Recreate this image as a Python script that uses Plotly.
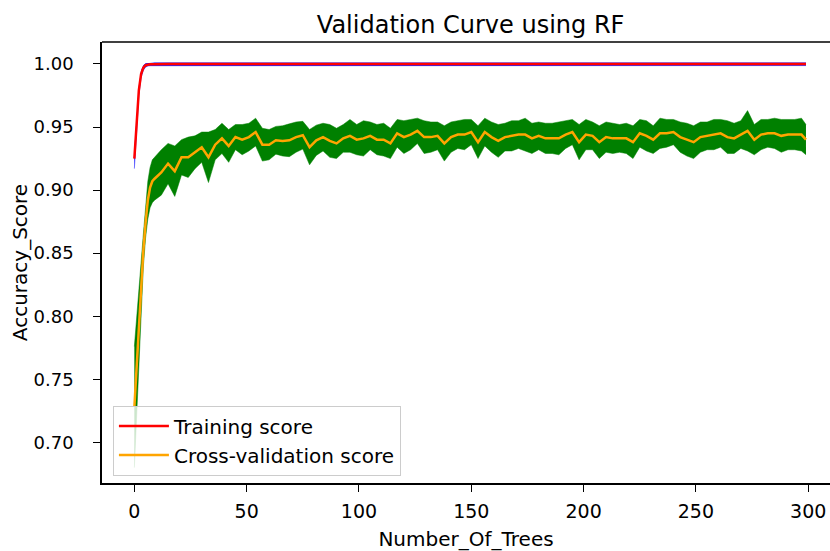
import plotly.graph_objects as go

n_trees = list(range(0, 9)) + list(range(9, 298, 3)) + [299]

train_mean = [
    0.925, 0.956, 0.979, 0.992, 0.997, 0.999, 0.9996, 0.9998, 0.9998,
    0.9999, 0.9999, 0.9999, 0.9999, 0.9999, 0.9999, 0.9999, 0.9999, 0.9999, 0.9999,
    0.9999, 0.9999, 0.9999, 0.9999, 0.9999, 0.9999, 0.9999, 0.9999, 0.9999, 0.9999,
    0.9999, 0.9999, 0.9999, 0.9999, 0.9999, 0.9999, 0.9999, 0.9999, 0.9999, 0.9999,
    0.9999, 0.9999, 0.9999, 0.9999, 0.9999, 0.9999, 0.9999, 0.9999, 0.9999, 0.9999,
    0.9999, 0.9999, 0.9999, 0.9999, 0.9999, 0.9999, 0.9999, 0.9999, 0.9999, 0.9999,
    0.9999, 0.9999, 0.9999, 0.9999, 0.9999, 0.9999, 0.9999, 0.9999, 0.9999, 0.9999,
    0.9999, 0.9999, 0.9999, 0.9999, 0.9999, 0.9999, 0.9999, 0.9999, 0.9999, 0.9999,
    0.9999, 0.9999, 0.9999, 0.9999, 0.9999, 0.9999, 0.9999, 0.9999, 0.9999, 0.9999,
    0.9999, 0.9999, 0.9999, 0.9999, 0.9999, 0.9999, 0.9999, 0.9999, 0.9999, 0.9999,
    0.9999, 0.9999, 0.9999, 0.9999, 0.9999, 0.9999, 0.9999,
    0.9999,
]
train_std = [
    0.008, 0.006, 0.004, 0.003, 0.002, 0.0015, 0.0012, 0.0012, 0.0012,
    0.0012, 0.0012, 0.0012, 0.0012, 0.0012, 0.0012, 0.0012, 0.0012, 0.0012, 0.0012,
    0.0012, 0.0012, 0.0012, 0.0012, 0.0012, 0.0012, 0.0012, 0.0012, 0.0012, 0.0012,
    0.0012, 0.0012, 0.0012, 0.0012, 0.0012, 0.0012, 0.0012, 0.0012, 0.0012, 0.0012,
    0.0012, 0.0012, 0.0012, 0.0012, 0.0012, 0.0012, 0.0012, 0.0012, 0.0012, 0.0012,
    0.0012, 0.0012, 0.0012, 0.0012, 0.0012, 0.0012, 0.0012, 0.0012, 0.0012, 0.0012,
    0.0012, 0.0012, 0.0012, 0.0012, 0.0012, 0.0012, 0.0012, 0.0012, 0.0012, 0.0012,
    0.0012, 0.0012, 0.0012, 0.0012, 0.0012, 0.0012, 0.0012, 0.0012, 0.0012, 0.0012,
    0.0012, 0.0012, 0.0012, 0.0012, 0.0012, 0.0012, 0.0012, 0.0012, 0.0012, 0.0012,
    0.0012, 0.0012, 0.0012, 0.0012, 0.0012, 0.0012, 0.0012, 0.0012, 0.0012, 0.0012,
    0.0012, 0.0012, 0.0012, 0.0012, 0.0012, 0.0012, 0.0012,
    0.0012,
]
cv_mean = [
    0.728, 0.760, 0.792, 0.823, 0.852, 0.874, 0.892, 0.902, 0.907,
    0.909, 0.914, 0.921, 0.915, 0.926, 0.926, 0.930, 0.934, 0.926, 0.936,
    0.941, 0.935, 0.942, 0.940, 0.942, 0.946, 0.936, 0.936, 0.9395, 0.939,
    0.9395, 0.942, 0.9435, 0.934, 0.9395, 0.942, 0.939, 0.937, 0.941, 0.943,
    0.940, 0.941, 0.943, 0.940, 0.940, 0.937, 0.945, 0.942, 0.944, 0.947,
    0.942, 0.942, 0.943, 0.937, 0.942, 0.944, 0.944, 0.946, 0.938, 0.946,
    0.942, 0.939, 0.942, 0.943, 0.944, 0.944, 0.941, 0.943, 0.941, 0.941,
    0.941, 0.944, 0.946, 0.938, 0.944, 0.943, 0.938, 0.942, 0.941, 0.941,
    0.941, 0.938, 0.945, 0.943, 0.940, 0.945, 0.945, 0.946, 0.942, 0.940,
    0.938, 0.942, 0.943, 0.944, 0.945, 0.942, 0.941, 0.944, 0.947, 0.940,
    0.944, 0.945, 0.945, 0.943, 0.944, 0.944, 0.944,
    0.940,
]
cv_std = [
    0.048, 0.040, 0.030, 0.020, 0.013, 0.012, 0.015, 0.016, 0.017,
    0.017, 0.018, 0.016, 0.020, 0.014, 0.016, 0.013, 0.012, 0.020, 0.012,
    0.012, 0.013, 0.010, 0.012, 0.011, 0.011, 0.013, 0.012, 0.011, 0.012,
    0.013, 0.012, 0.011, 0.014, 0.012, 0.011, 0.013, 0.012, 0.011, 0.013,
    0.012, 0.014, 0.011, 0.012, 0.013, 0.012, 0.011, 0.013, 0.012, 0.010,
    0.013, 0.012, 0.011, 0.014, 0.012, 0.011, 0.012, 0.010, 0.013, 0.011,
    0.012, 0.013, 0.011, 0.012, 0.011, 0.013, 0.012, 0.011, 0.012, 0.012,
    0.013, 0.011, 0.010, 0.014, 0.012, 0.011, 0.013, 0.012, 0.012, 0.011,
    0.012, 0.013, 0.011, 0.012, 0.011, 0.012, 0.011, 0.010, 0.012, 0.013,
    0.013, 0.012, 0.011, 0.012, 0.011, 0.013, 0.012, 0.011, 0.016, 0.012,
    0.012, 0.011, 0.012, 0.013, 0.012, 0.012, 0.013,
    0.012,
]

x_ticks = [0, 50, 100, 150, 200, 250, 300]
y_ticks = [0.70, 0.75, 0.80, 0.85, 0.90, 0.95, 1.00]

train_hi = [m + s for m, s in zip(train_mean, train_std)]
train_lo = [m - s for m, s in zip(train_mean, train_std)]
cv_hi = [m + s for m, s in zip(cv_mean, cv_std)]
cv_lo = [m - s for m, s in zip(cv_mean, cv_std)]

FONT = "DejaVu Sans"
fig = go.Figure()

# bands
fig.add_trace(go.Scatter(x=n_trees, y=train_hi, mode="lines", line=dict(width=0, color="blue"),
                         showlegend=False, hoverinfo="skip"))
fig.add_trace(go.Scatter(x=n_trees, y=train_lo, mode="lines", line=dict(width=0.5, color="blue"),
                         fill="tonexty", fillcolor="blue", showlegend=False, hoverinfo="skip"))
fig.add_trace(go.Scatter(x=n_trees, y=cv_hi, mode="lines", line=dict(width=0.5, color="green"),
                         showlegend=False, hoverinfo="skip"))
fig.add_trace(go.Scatter(x=n_trees, y=cv_lo, mode="lines", line=dict(width=0.5, color="green"),
                         fill="tonexty", fillcolor="green", showlegend=False, hoverinfo="skip"))
# lines
fig.add_trace(go.Scatter(x=n_trees, y=train_mean, mode="lines", name="Training score",
                         line=dict(color="red", width=2.5)))
fig.add_trace(go.Scatter(x=n_trees, y=cv_mean, mode="lines", name="Cross-validation score",
                         line=dict(color="orange", width=2.5)))

fig.update_layout(
    width=830, height=551,
    margin=dict(l=102, r=0, t=42, b=551 - 483),
    paper_bgcolor="white", plot_bgcolor="white",
    font=dict(family=FONT, size=18, color="black"),
    title=dict(text="Validation Curve using RF", x=0.567, xanchor="center",
               y=0.955, yanchor="middle", font=dict(size=24, family=FONT, color="black")),
    legend=dict(x=0.015, y=0.017, xanchor="left", yanchor="bottom",
                bgcolor="rgba(255,255,255,0.8)", bordercolor="#cccccc", borderwidth=1,
                font=dict(size=20, family=FONT, color="black"),
                traceorder="normal", tracegroupgap=0, itemwidth=50),
    showlegend=True,
)
fig.update_xaxes(range=[-14.4, 309.7], tickvals=x_ticks, ticktext=[str(v) for v in x_ticks],
                 ticks="outside", ticklen=7, tickwidth=1.3, tickcolor="black",
                 showline=True, linecolor="black", linewidth=1.5, showgrid=False, zeroline=False,
                 ticklabelstandoff=3,
                 title=dict(text="Number_Of_Trees", font=dict(size=20, family=FONT), standoff=12),
                 tickfont=dict(size=19, family=FONT))
fig.update_yaxes(range=[0.6678, 1.0174], tickvals=y_ticks, ticktext=[f"{v:.2f}" for v in y_ticks],
                 ticks="outside", ticklen=7, tickwidth=1.3, tickcolor="black",
                 showline=True, linecolor="black", linewidth=1.5, showgrid=False, zeroline=False,
                 ticklabelstandoff=16,
                 title=dict(text="Accuracy_Score", font=dict(size=20, family=FONT), standoff=1),
                 tickfont=dict(size=18, family=FONT))
fig.add_shape(type="line", xref="paper", yref="paper", x0=0, x1=1, y0=1, y1=1,
              line=dict(color="black", width=1.5))

fig.write_html("out.html")
